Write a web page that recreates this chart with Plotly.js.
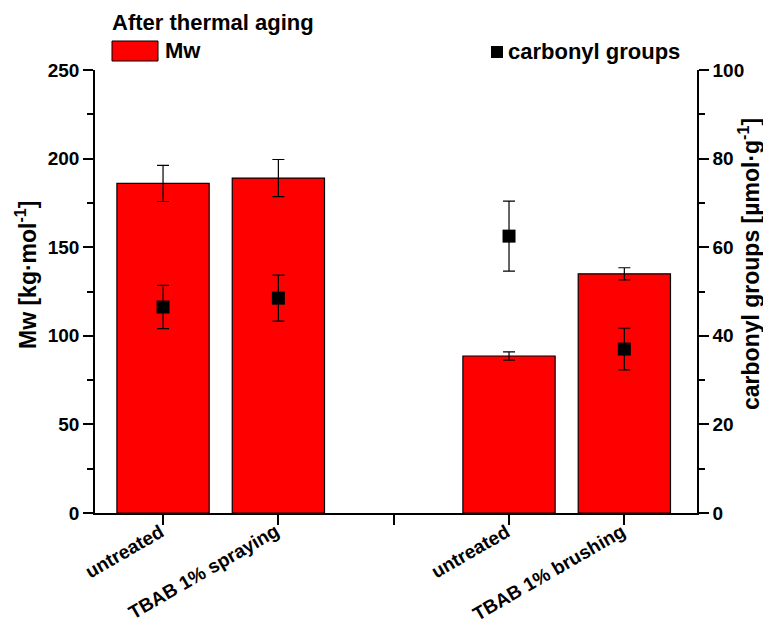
<!DOCTYPE html>
<html><head><meta charset="utf-8">
<script src="https://cdn.plot.ly/plotly-3.0.1.min.js"></script>
<style>body{margin:0;background:#fff}#c{width:763px;height:628px}</style>
</head><body><div id="c"></div>
<script>
const positions = [0, 1, 3, 4];
const tickPositions = [0, 1, 2, 3, 4];
const tickLabels = ['untreated', 'TBAB 1% spraying', '', 'untreated', 'TBAB 1% brushing'];
const mw = [186, 189, 88.6, 135];
const mwErr = [10.2, 10.5, 2.3, 3.4];
const carbonyl = [46.5, 48.5, 62.5, 37.0];
const carbonylErr = [4.9, 5.2, 7.9, 4.7];

const F = 'Liberation Sans, Arial, sans-serif';
const PX = v => (v - 95) / 602;      // page x -> paper x
const PY = v => (513 - v) / 443;     // page y -> paper y
const traces = [
  {type:'bar', x:positions, y:mw, name:'Mw', width:0.8, showlegend:false,
   marker:{color:'#ff0000', line:{color:'#000', width:1.2}},
   error_y:{type:'data', array:mwErr, color:'#000', thickness:1.2, width:6}},
  {type:'scatter', mode:'markers', x:positions, y:carbonyl, yaxis:'y2', name:'carbonyl groups', showlegend:false,
   marker:{symbol:'square', color:'#000', size:13},
   error_y:{type:'data', array:carbonylErr, color:'#000', thickness:1.2, width:6}}
];
const catAnnotations = tickLabels.map((t, i) => t ? {
  xref:'x', yref:'paper', x:tickPositions[i] + 0.05, y:PY(519), xanchor:'right', yanchor:'top',
  textangle:-30, text:'<b>' + t + '</b>', showarrow:false, font:{size:19}, borderpad:0
} : null).filter(Boolean);
const layout = {
  width:763, height:628,
  margin:{l:95, r:66, t:70, b:115},
  paper_bgcolor:'#fff', plot_bgcolor:'#fff',
  font:{family:F, color:'#000', size:18},
  showlegend:false,
  xaxis:{range:[-0.59, 4.63], tickvals:tickPositions, ticktext:tickLabels.map(() => ''),
    ticks:'outside', ticklen:10, tickwidth:1.5, tickcolor:'#000',
    showline:true, linecolor:'#000', linewidth:1.5, showgrid:false, zeroline:false},
  yaxis:{range:[0,250], dtick:50, ticks:'outside', ticklen:10, tickwidth:1.5, tickcolor:'#000',
    showline:true, linecolor:'#000', linewidth:1.5, showgrid:false, zeroline:false,
    minor:{dtick:25, ticks:'outside', ticklen:6, tickwidth:1.5, tickcolor:'#000'},
    tickprefix:'<b>', ticksuffix:'</b>', tickfont:{size:19}},
  yaxis2:{overlaying:'y', side:'right', range:[0,100], dtick:20, ticks:'outside', ticklen:10, tickwidth:1.5,
    tickcolor:'#000', showline:true, linecolor:'#000', linewidth:1.5, showgrid:false, zeroline:false,
    minor:{dtick:10, ticks:'outside', ticklen:6, tickwidth:1.5, tickcolor:'#000'},
    tickprefix:'<b>', ticksuffix:'</b>', tickfont:{size:19}},
  shapes:[
    {type:'rect', xref:'paper', yref:'paper', x0:PX(112), x1:PX(158), y0:PY(61), y1:PY(41),
     fillcolor:'#ff0000', line:{color:'#000', width:1}},
    {type:'rect', xref:'paper', yref:'paper', x0:PX(491), x1:PX(503), y0:PY(58), y1:PY(46),
     fillcolor:'#000', line:{color:'#000', width:0}}
  ],
  annotations:[
    {xref:'paper', yref:'paper', x:PX(110), y:PY(22), xanchor:'left', yanchor:'middle',
     text:'<b>After thermal aging</b>', showarrow:false, font:{size:22}},
    {xref:'paper', yref:'paper', x:PX(163), y:PY(51), xanchor:'left', yanchor:'middle',
     text:'<b>Mw</b>', showarrow:false, font:{size:22}},
    {xref:'paper', yref:'paper', x:PX(506), y:PY(52), xanchor:'left', yanchor:'middle',
     text:'<b>carbonyl groups</b>', showarrow:false, font:{size:22}},
    {xref:'paper', yref:'paper', x:PX(26), y:PY(275), xanchor:'center', yanchor:'middle', textangle:-90,
     text:'<b>Mw [kg·mol<sup>-1</sup>]</b>', showarrow:false, font:{size:23}},
    {xref:'paper', yref:'paper', x:PX(749), y:PY(264), xanchor:'center', yanchor:'middle', textangle:-90,
     text:'<b>carbonyl groups [µmol·g<sup>-1</sup>]</b>', showarrow:false, font:{size:23}},
    ...catAnnotations
  ]
};
Plotly.newPlot('c', traces, layout, {displayModeBar:false});
</script></body></html>
